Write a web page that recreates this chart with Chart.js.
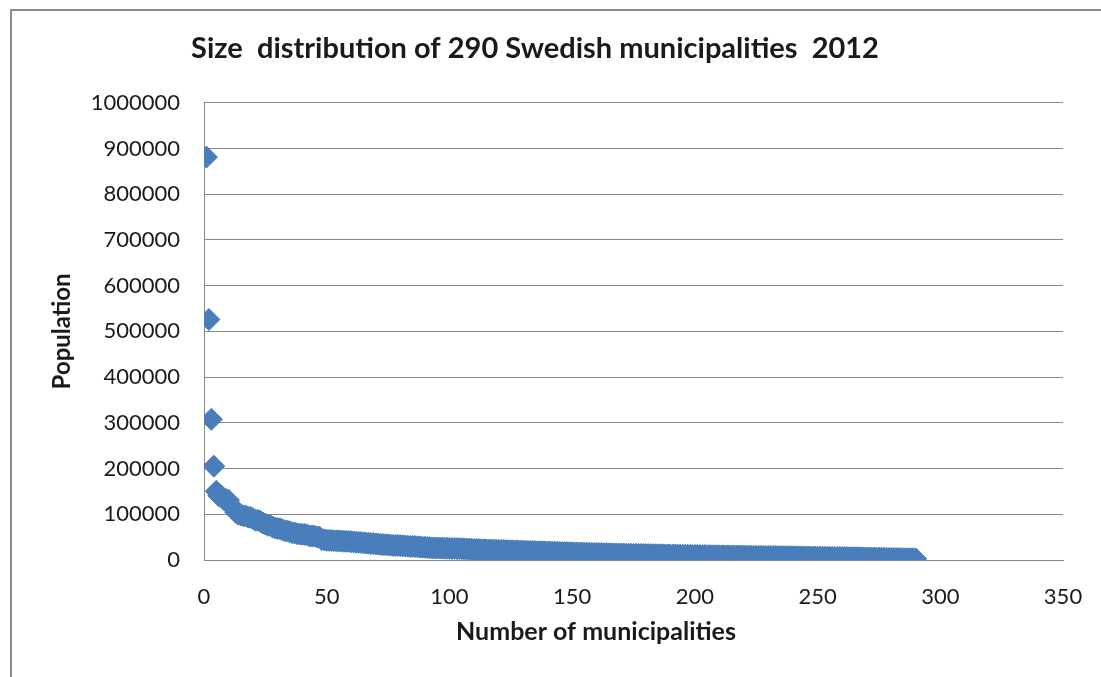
<!DOCTYPE html>
<html>
<head>
<meta charset="utf-8">
<script src="https://cdn.jsdelivr.net/npm/chart.js@4.4.1/dist/chart.umd.min.js"></script>
<style>
  html, body { margin: 0; padding: 0; background: #fff; overflow: hidden; }
  #frame { position: absolute; left: 10px; top: 9px; width: 1300px; height: 900px; border: 2px solid #8a8a8a; }
  #porTamano { position: absolute; left: 0; top: 0; }
</style>
</head>
<body>
<div id="frame"></div>
<canvas id="porTamano" width="1101" height="677"></canvas>
<script>
// population of each municipality, largest first (rank = position + 1)
const populations = [
  881235, 526089, 307758, 205199, 150202, 140599, 140486, 132989, 132124, 130798,
  117294, 114698, 104106, 100194, 98655, 96801, 96360, 93723, 93231, 90257,
  86929, 86850, 84413, 80863, 78547, 75811, 75257, 71988, 69887, 68835,
  68280, 65879, 63815, 63342, 61718, 59373, 59172, 57269, 56727, 56106,
  56044, 55008, 52651, 52614, 52313, 50359, 50120, 44702, 44245, 43107,
  42841, 42556, 42121, 41867, 41811, 41548, 40895, 40852, 40716, 39890,
  39616, 39048, 38693, 38298, 37560, 37067, 36811, 36102, 36001, 35193,
  34812, 33904, 33849, 33141, 33128, 32597, 31988, 31885, 31719, 31396,
  31035, 30588, 30214, 29661, 29580, 29301, 28900, 28540, 28051, 27792,
  27330, 27018, 26507, 26264, 26230, 26131, 26044, 25863, 25610, 25427,
  25151, 25024, 24893, 24725, 24532, 24316, 24107, 23780, 23423, 23178,
  22946, 22704, 22381, 22350, 22113, 21872, 21631, 21617, 21384, 21152,
  20932, 20798, 20617, 20412, 20176, 20018, 19948, 19760, 19541, 19318,
  19107, 18934, 18713, 18522, 18305, 18135, 18065, 17889, 17663, 17447,
  17281, 17093, 16948, 16772, 16590, 16419, 16254, 16077, 15912, 15719,
  15563, 15402, 15248, 15089, 14937, 14793, 14641, 14503, 14362, 14251,
  14109, 13984, 13851, 13722, 13593, 13461, 13338, 13214, 13092, 12968,
  12875, 12763, 12641, 12532, 12418, 12309, 12204, 12093, 11982, 11874,
  11762, 11658, 11553, 11449, 11352, 11247, 11151, 11049, 10953, 10858,
  10762, 10671, 10583, 10487, 10402, 10309, 10223, 10138, 10052, 9968,
  9884, 9801, 9719, 9643, 9558, 9482, 9397, 9322, 9248, 9171,
  9098, 9023, 8947, 8872, 8801, 8728, 8659, 8587, 8521, 8449,
  8377, 8312, 8238, 8169, 8097, 8031, 7958, 7889, 7822, 7748,
  7681, 7609, 7542, 7468, 7401, 7332, 7259, 7188, 7121, 7047,
  6979, 6903, 6827, 6752, 6681, 6598, 6523, 6437, 6362, 6279,
  6198, 6121, 6043, 5958, 5881, 5799, 5718, 5632, 5541, 5452,
  5361, 5268, 5183, 5089, 4998, 4903, 4797, 4702, 4598, 4503,
  4398, 4302, 4197, 4088, 3981, 3869, 3762, 3648, 3539, 3418,
  3302, 3181, 3063, 2941, 2822, 2703, 2598, 2521, 2476, 2449
];
const xTicks = [0, 50, 100, 150, 200, 250, 300, 350];
const yTicks = [0, 100000, 200000, 300000, 400000, 500000, 600000, 700000, 800000, 900000, 1000000];
const tituloGrafico = 'Size  distribution of 290 Swedish municipalities  2012';
const tituloX = 'Number of municipalities';
const tituloY = 'Population';

const azul = '#4a7ebb';
const gris = '#878787';
const texto = '#1a1a1a';
const fuente = 'Lato, "Open Sans", sans-serif';

// x axis title sits left of the plot centre, as in the original
const xTitlePlugin = {
  id: 'xTitle',
  afterDraw: chart => {
    const ctx = chart.ctx;
    const area = chart.chartArea;
    ctx.save();
    ctx.font = 'bold 25px ' + fuente;
    ctx.fillStyle = texto;
    ctx.textAlign = 'center';
    ctx.textBaseline = 'middle';
    ctx.fillText(tituloX, area.left + 392, area.bottom + 72);
    ctx.restore();
  }
};

const g1 = new Chart('porTamano', {
  type: 'scatter',
  data: {
    datasets: [{
      data: populations.map((p, i) => ({x: i + 1, y: p})),
      pointStyle: 'rectRot',
      pointRadius: 11,
      pointHoverRadius: 11,
      borderWidth: 1,
      borderColor: azul,
      backgroundColor: azul
    }]
  },
  plugins: [xTitlePlugin],
  options: {
    responsive: false,
    animation: false,
    layout: {padding: {left: 7, right: 38, top: 0, bottom: 0}},
    plugins: {
      legend: {display: false},
      tooltip: {enabled: false},
      title: {
        display: true,
        text: tituloGrafico,
        color: texto,
        font: {family: fuente, size: 29, weight: 'bold'},
        padding: {top: 31, bottom: 37}
      }
    },
    scales: {
      x: {
        type: 'linear',
        min: 0,
        max: 350,
        afterBuildTicks: s => { s.ticks = xTicks.map(v => ({value: v})); },
        afterFit: s => { s.height = 117; s.paddingLeft = 0; s.paddingRight = 0; },
        ticks: {color: texto, font: {family: fuente, size: 22}, padding: 24, maxRotation: 0},
        grid: {display: false, drawTicks: false},
        border: {display: true, color: gris, width: 1}
      },
      y: {
        min: 0,
        max: 1000000,
        afterBuildTicks: s => { s.ticks = yTicks.map(v => ({value: v})); },
        afterFit: s => { s.width = 197; },
        ticks: {color: texto, font: {family: fuente, size: 22}, padding: 24, callback: v => String(v)},
        grid: {color: gris, lineWidth: 1, drawTicks: false},
        border: {display: true, color: gris, width: 1},
        title: {
          display: true,
          text: tituloY,
          color: texto,
          font: {family: fuente, size: 24, weight: 'bold'},
          padding: {top: 41, bottom: 0}
        }
      }
    }
  }
});
</script>
</body>
</html>
